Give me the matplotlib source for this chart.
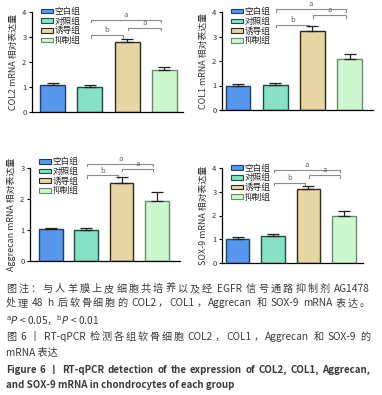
import matplotlib
matplotlib.use('Agg')
import matplotlib.pyplot as plt
import numpy as np

plt.rcParams['font.family'] = ['Noto Sans CJK SC', 'DejaVu Sans']
plt.rcParams['axes.unicode_minus'] = False

# Data
groups = ['空白组', '对照组', '诱导组', '抑制组']
fills = ['#5598ee', '#86e1c7', '#e7d6a4', '#cdf8cf']
edges = ['#1b3d73', '#1d4d42', '#2f2a1a', '#6b8a6b']

col2_mean = [1.10, 1.02, 2.79, 1.70]
col2_err = [0.08, 0.05, 0.12, 0.09]
col1_mean = [0.98, 1.04, 3.22, 2.10]
col1_err = [0.07, 0.08, 0.19, 0.18]
aggrecan_mean = [1.02, 1.00, 2.53, 1.93]
aggrecan_err = [0.05, 0.08, 0.19, 0.28]
sox9_mean = [1.01, 1.14, 3.13, 1.99]
sox9_err = [0.07, 0.08, 0.13, 0.20]

# brackets: (from bar, to bar, height, label)
col2_sig = [(1, 2, 3.08, 'b'), (2, 3, 3.38, 'a'), (1, 3, 3.70, 'a')]
col1_sig = [(1, 2, 3.48, 'b'), (2, 3, 3.86, 'a'), (1, 3, 4.13, 'a')]
aggrecan_sig = [(1, 2, 2.76, 'b'), (2, 3, 2.97, 'a'), (1, 3, 3.13, 'a')]
sox9_sig = [(1, 2, 3.38, 'b'), (2, 3, 3.69, 'a'), (1, 3, 3.93, 'a')]

W, H = 382, 395
fig = plt.figure(figsize=(W / 100, H / 100), dpi=100)


def px_axes(left, top, right, bottom):
    return fig.add_axes([left / W, 1 - bottom / H, (right - left) / W, (bottom - top) / H])


def draw_panel(ax, means, errs, sig, ylabel, ymax, xlim, drop, leg_y=1.11):
    x = np.arange(len(means))
    ax.bar(x, means, width=0.67, color=fills, edgecolor=edges, linewidth=1.0, zorder=2)
    ax.errorbar(x, means, yerr=[np.zeros(len(errs)), errs], fmt='none',
                ecolor='#222222', elinewidth=0.9, capsize=4.2, capthick=0.9, zorder=3)
    for i, j, h, lab in sig:
        x1, x2 = i + 0.02, j - 0.1
        ax.plot([x1, x1, x2, x2], [h - drop, h, h, h - drop], color='#8a8a8a',
                lw=0.8, clip_on=False, zorder=1)
        ax.text((x1 + x2) / 2, h + drop * 0.35, lab, ha='center', va='bottom',
                fontsize=5.5, color='#666666', clip_on=False)
    ax.set_xlim(*xlim)
    ax.set_ylim(0, ymax)
    ax.set_yticks(range(ymax + 1))
    ax.set_xticks([])
    for s in ['top', 'right']:
        ax.spines[s].set_visible(False)
    ax.spines['left'].set_linewidth(0.9)
    ax.spines['bottom'].set_linewidth(0.9)
    ax.tick_params(axis='y', length=2.5, width=0.8, labelsize=5.5, pad=1.5, labelcolor='#333333')
    ax.set_ylabel(ylabel, fontsize=6.4, labelpad=3, color='#333333')
    handles = [plt.Rectangle((0, 0), 1, 1, facecolor=f, edgecolor=e, linewidth=0.8)
               for f, e in zip(fills, edges)]
    ax.legend(handles, groups, loc='upper left', bbox_to_anchor=(0.02, leg_y),
              frameon=False, fontsize=6.2, handlelength=1.4, handleheight=0.45,
              handletextpad=0.2, labelspacing=0.08, borderpad=0.2, labelcolor='#222222')


ax1 = px_axes(32, 12, 183, 112)
draw_panel(ax1, col2_mean, col2_err, col2_sig, 'COL2 mRNA 相对表达量', 4, (-0.55, 3.5), 0.11)
ax2 = px_axes(222, 12, 373, 110)
draw_panel(ax2, col1_mean, col1_err, col1_sig, 'COL1 mRNA 相对表达量', 4, (-0.43, 3.63), 0.11)
ax3 = px_axes(30, 168, 180, 261)
draw_panel(ax3, aggrecan_mean, aggrecan_err, aggrecan_sig, 'Aggrecan mRNA 相对表达量', 3,
           (-0.59, 3.65), 0.08, leg_y=1.18)
ax4 = px_axes(222, 168, 363, 263)
draw_panel(ax4, sox9_mean, sox9_err, sox9_sig, 'SOX-9 mRNA 相对表达量', 4, (-0.44, 3.54), 0.11)

# caption
cap = '#3a3a3a'
renderer = fig.canvas.get_renderer()


def tokens_of(text):
    toks, word, space_before, gaps = [], '', False, []
    for ch in text:
        if ch == ' ':
            if word:
                toks.append(word)
                gaps.append(space_before)
                word = ''
            space_before = True
        elif ord(ch) < 128:
            word += ch
        else:
            if word:
                toks.append(word)
                gaps.append(space_before)
                word = ''
                space_before = False
            toks.append(ch)
            gaps.append(space_before)
            space_before = False
    if word:
        toks.append(word)
        gaps.append(space_before)
    return toks, gaps


def text_width(s, weight, fs):
    t = fig.text(0, 0, s, fontsize=fs, fontweight=weight)
    w = t.get_window_extent(renderer).width
    t.remove()
    return w


def justified(y, text, weight, fs, right):
    toks, gaps = tokens_of(text)
    widths = [text_width(t, weight, fs) for t in toks]
    space = text_width('a a', weight, fs) - text_width('aa', weight, fs)
    base = sum(widths) + space * sum(gaps[1:])
    extra = (right - 6 - base) / max(len(toks) - 1, 1)
    x = 6.0
    for k, (t, w) in enumerate(zip(toks, widths)):
        if k > 0:
            x += extra + (space if gaps[k] else 0)
        fig.text(x / W, 1 - y / H, t, fontsize=fs, color=cap, fontweight=weight,
                 ha='left', va='center')
        x += w


lines = [
    (289, '图注：与人羊膜上皮细胞共培养以及经 EGFR 信号通路抑制剂 AG1478', 'normal', 7.3, True),
    (303, '处理 48 h 后软骨细胞的 COL2，COL1，Aggrecan 和 SOX-9 mRNA 表达。', 'normal', 7.3, True),
    (320, r'$^{\mathrm{a}}$$\it{P}$ < 0.05，$^{\mathrm{b}}$$\it{P}$ < 0.01', 'normal', 7.3, False),
    (337, '图 6 丨 RT-qPCR 检测各组软骨细胞 COL2，COL1，Aggrecan 和 SOX-9 的', 'medium', 7.3, True),
    (352, 'mRNA 表达', 'medium', 7.3, False),
    (370, 'Figure 6 丨 RT-qPCR detection of the expression of COL2, COL1, Aggrecan,', 'bold', 7.0, True),
    (385, 'and SOX-9 mRNA in chondrocytes of each group', 'bold', 7.0, False),
]
for y, t, w, fs, just in lines:
    if just:
        justified(y, t, w, fs, 370)
    else:
        fig.text(6 / W, 1 - y / H, t, fontsize=fs, color=cap, fontweight=w,
                 ha='left', va='center')

fig.savefig('out.png', dpi=100)
